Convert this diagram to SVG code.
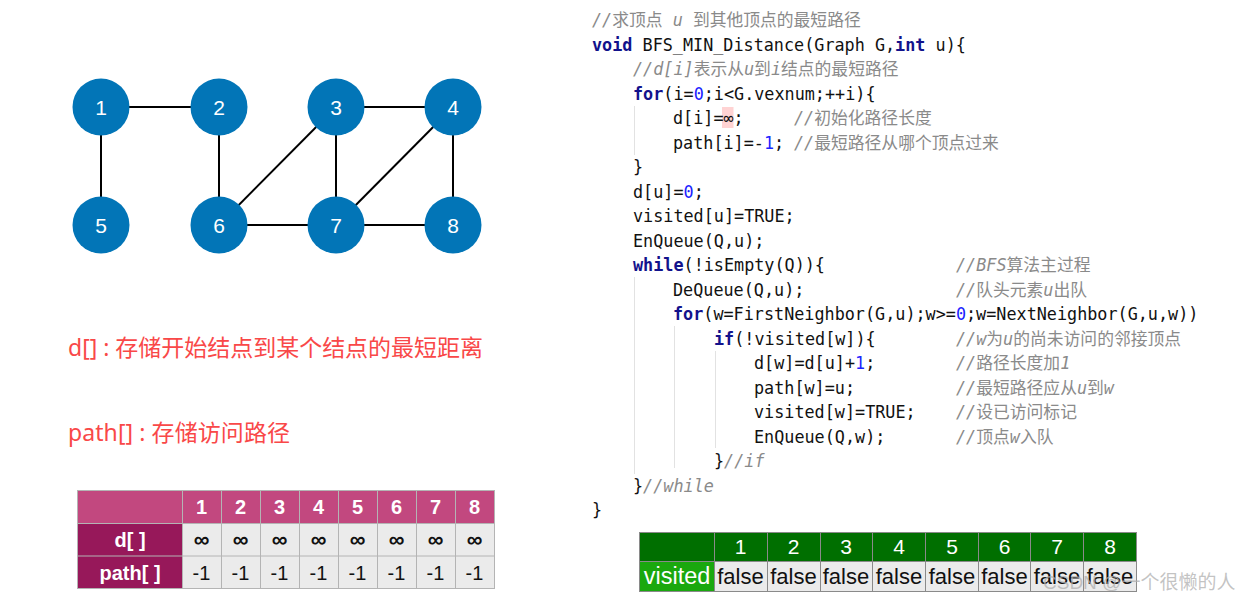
<svg xmlns="http://www.w3.org/2000/svg" width="1251" height="602" viewBox="0 0 1251 602">
<style>
.node circle{fill:#0275b7}
.node text{font-family:"Liberation Sans",Arial,sans-serif;font-size:21px;fill:#fff;text-anchor:middle}
.edge{stroke:#000;stroke-width:2}
.red{font-family:"Noto Sans","Noto Sans CJK SC",sans-serif;font-size:23px;fill:#f94848}
.code{font-family:"DejaVu Sans Mono","Noto Sans CJK SC",monospace;font-size:16.8px;fill:#111}
.kw{fill:#12128c;font-weight:bold}
.num{fill:#1a22ff}
.cm{fill:#8a8a8a;font-style:italic}
.cj{font-style:normal}
.guide{stroke:#e2e2e2;stroke-width:1}
.th{font-family:"Liberation Sans",Arial,sans-serif;font-size:20px;font-weight:bold;fill:#fff;text-anchor:middle}
.td{font-family:"Liberation Sans",Arial,sans-serif;font-size:20px;fill:#111;text-anchor:middle}
.inf{font-weight:bold;font-size:22px}
.vh{font-family:"Liberation Sans",Arial,sans-serif;font-size:21px;fill:#fff;text-anchor:middle}
.vd{font-family:"Liberation Sans",Arial,sans-serif;font-size:22px;fill:#111;text-anchor:middle}
</style>
<rect width="1251" height="602" fill="#fff"/>

<g id="connectors">
<line class="edge" x1="101" y1="107" x2="219" y2="107"/>
<line class="edge" x1="101" y1="107" x2="101" y2="225"/>
<line class="edge" x1="219" y1="107" x2="219" y2="225"/>
<line class="edge" x1="336" y1="107" x2="453" y2="107"/>
<line class="edge" x1="336" y1="107" x2="336" y2="225"/>
<line class="edge" x1="336" y1="107" x2="219" y2="225"/>
<line class="edge" x1="453" y1="107" x2="336" y2="225"/>
<line class="edge" x1="453" y1="107" x2="453" y2="225"/>
<line class="edge" x1="219" y1="225" x2="336" y2="225"/>
<line class="edge" x1="336" y1="225" x2="453" y2="225"/>
</g>
<g id="n1" class="node"><circle cx="101" cy="107" r="28.5"/><text x="101" y="114.5">1</text></g>
<g id="n2" class="node"><circle cx="219" cy="107" r="28.5"/><text x="219" y="114.5">2</text></g>
<g id="n3" class="node"><circle cx="336" cy="107" r="28.5"/><text x="336" y="114.5">3</text></g>
<g id="n4" class="node"><circle cx="453" cy="107" r="28.5"/><text x="453" y="114.5">4</text></g>
<g id="n5" class="node"><circle cx="101" cy="225" r="28.5"/><text x="101" y="232.5">5</text></g>
<g id="n6" class="node"><circle cx="219" cy="225" r="28.5"/><text x="219" y="232.5">6</text></g>
<g id="n7" class="node"><circle cx="336" cy="225" r="28.5"/><text x="336" y="232.5">7</text></g>
<g id="n8" class="node"><circle cx="453" cy="225" r="28.5"/><text x="453" y="232.5">8</text></g>

<text class="red" x="68" y="356" textLength="415" lengthAdjust="spacing">d[] : 存储开始结点到某个结点的最短距离</text>
<text class="red" x="68" y="441" textLength="222" lengthAdjust="spacing">path[] : 存储访问路径</text>

<g id="dtable">
<rect x="78" y="490.5" width="104" height="33" fill="#c2487f"/>
<rect x="182" y="490.5" width="312" height="33" fill="#c2487f"/>
<rect x="78" y="523.5" width="104" height="65" fill="#97185a"/>
<rect x="182" y="523.5" width="312" height="65" fill="#ebebeb"/>
<g stroke="#b4b4b4" stroke-width="1">
<line x1="78" y1="490.5" x2="494" y2="490.5"/>
<line x1="78" y1="523.5" x2="494" y2="523.5"/>
<line x1="78" y1="556" x2="494" y2="556"/>
<line x1="78" y1="588.5" x2="494" y2="588.5"/>
<line x1="77.5" y1="490" x2="77.5" y2="589"/>
<line x1="182.5" y1="490" x2="182.5" y2="589"/>
<line x1="221.5" y1="490" x2="221.5" y2="589"/>
<line x1="260.5" y1="490" x2="260.5" y2="589"/>
<line x1="299.5" y1="490" x2="299.5" y2="589"/>
<line x1="338.5" y1="490" x2="338.5" y2="589"/>
<line x1="377.5" y1="490" x2="377.5" y2="589"/>
<line x1="416.5" y1="490" x2="416.5" y2="589"/>
<line x1="455.5" y1="490" x2="455.5" y2="589"/>
<line x1="494.5" y1="490" x2="494.5" y2="589"/>
</g>
<text class="th" x="201.5" y="514">1</text>
<text class="th" x="240.5" y="514">2</text>
<text class="th" x="279.5" y="514">3</text>
<text class="th" x="318.5" y="514">4</text>
<text class="th" x="357.5" y="514">5</text>
<text class="th" x="396.5" y="514">6</text>
<text class="th" x="435.5" y="514">7</text>
<text class="th" x="474.5" y="514">8</text>
<text class="th" x="130" y="547">d[ ]</text>
<text class="th" x="130" y="580">path[ ]</text>
<g class="td">
<text class="inf" x="201.5" y="547">∞</text><text class="inf" x="240.5" y="547">∞</text><text class="inf" x="279.5" y="547">∞</text><text class="inf" x="318.5" y="547">∞</text>
<text class="inf" x="357.5" y="547">∞</text><text class="inf" x="396.5" y="547">∞</text><text class="inf" x="435.5" y="547">∞</text><text class="inf" x="474.5" y="547">∞</text>
<text x="201.5" y="580">-1</text><text x="240.5" y="580">-1</text><text x="279.5" y="580">-1</text><text x="318.5" y="580">-1</text>
<text x="357.5" y="580">-1</text><text x="396.5" y="580">-1</text><text x="435.5" y="580">-1</text><text x="474.5" y="580">-1</text>
</g>
</g>

<g id="code">
<rect x="722" y="107" width="11.5" height="21" fill="#ffd3d3"/>
<line class="guide" x1="634.5" y1="106" x2="634.5" y2="155"/>
<line class="guide" x1="634.5" y1="277" x2="634.5" y2="474"/>
<line class="guide" x1="674.5" y1="326" x2="674.5" y2="468"/>
<line class="guide" x1="715.5" y1="351" x2="715.5" y2="448"/>
<text class="code" xml:space="preserve" x="592" y="26"><tspan class="cm">//<tspan class="cj">求顶点</tspan> u <tspan class="cj">到其他顶点的最短路径</tspan></tspan></text>
<text class="code" x="592" y="50.5"><tspan class="kw">void</tspan> BFS_MIN_Distance(Graph G,<tspan class="kw">int</tspan> u){</text>
<text class="code" x="633" y="75"><tspan class="cm">//d[i]<tspan class="cj">表示从</tspan>u<tspan class="cj">到</tspan>i<tspan class="cj">结点的最短路径</tspan></tspan></text>
<text class="code" x="633" y="99.5"><tspan class="kw">for</tspan>(i=<tspan class="num">0</tspan>;i&lt;G.vexnum;++i){</text>
<text class="code" x="673" y="124">d[i]=∞;</text>
<text class="code" x="794" y="124"><tspan class="cm">//<tspan class="cj">初始化路径长度</tspan></tspan></text>
<text class="code" x="673" y="148.5">path[i]=-<tspan class="num">1</tspan>;</text>
<text class="code" x="794" y="148.5"><tspan class="cm">//<tspan class="cj">最短路径从哪个顶点过来</tspan></tspan></text>
<text class="code" x="633" y="173">}</text>
<text class="code" x="633" y="197.5">d[u]=<tspan class="num">0</tspan>;</text>
<text class="code" x="633" y="222">visited[u]=TRUE;</text>
<text class="code" x="633" y="246.5">EnQueue(Q,u);</text>
<text class="code" x="633" y="271"><tspan class="kw">while</tspan>(!isEmpty(Q)){</text>
<text class="code" x="956" y="271"><tspan class="cm">//BFS<tspan class="cj">算法主过程</tspan></tspan></text>
<text class="code" x="673" y="295.5">DeQueue(Q,u);</text>
<text class="code" x="956" y="295.5"><tspan class="cm">//<tspan class="cj">队头元素</tspan>u<tspan class="cj">出队</tspan></tspan></text>
<text class="code" x="673" y="320"><tspan class="kw">for</tspan>(w=FirstNeighbor(G,u);w&gt;=<tspan class="num">0</tspan>;w=NextNeighbor(G,u,w))</text>
<text class="code" x="714" y="344.5"><tspan class="kw">if</tspan>(!visited[w]){</text>
<text class="code" x="956" y="344.5"><tspan class="cm">//w<tspan class="cj">为</tspan>u<tspan class="cj">的尚未访问的邻接顶点</tspan></tspan></text>
<text class="code" x="754" y="369">d[w]=d[u]+<tspan class="num">1</tspan>;</text>
<text class="code" x="956" y="369"><tspan class="cm">//<tspan class="cj">路径长度加</tspan>1</tspan></text>
<text class="code" x="754" y="393.5">path[w]=u;</text>
<text class="code" x="956" y="393.5"><tspan class="cm">//<tspan class="cj">最短路径应从</tspan>u<tspan class="cj">到</tspan>w</tspan></text>
<text class="code" x="754" y="418">visited[w]=TRUE;</text>
<text class="code" x="956" y="418"><tspan class="cm">//<tspan class="cj">设已访问标记</tspan></tspan></text>
<text class="code" x="754" y="442.5">EnQueue(Q,w);</text>
<text class="code" x="956" y="442.5"><tspan class="cm">//<tspan class="cj">顶点</tspan>w<tspan class="cj">入队</tspan></tspan></text>
<text class="code" x="714" y="467">}<tspan class="cm">//if</tspan></text>
<text class="code" x="633" y="491.5">}<tspan class="cm">//while</tspan></text>
<text class="code" x="592" y="516">}</text>
</g>

<g id="vtable">
<rect x="640" y="532" width="496" height="29" fill="#006f00"/>
<rect x="640" y="561" width="74" height="30" fill="#1aa80e"/>
<rect x="714" y="561" width="422" height="30" fill="#ebebeb"/>
<g stroke="#8a8a8a" stroke-width="1">
<line x1="640" y1="532.5" x2="1136" y2="532.5"/>
<line x1="640" y1="561.5" x2="1136" y2="561.5"/>
<line x1="640" y1="591.5" x2="1136" y2="591.5"/>
<line x1="639.5" y1="532" x2="639.5" y2="592"/>
<line x1="714.5" y1="532" x2="714.5" y2="592"/>
<line x1="767.5" y1="532" x2="767.5" y2="592"/>
<line x1="820.5" y1="532" x2="820.5" y2="592"/>
<line x1="872.5" y1="532" x2="872.5" y2="592"/>
<line x1="925.5" y1="532" x2="925.5" y2="592"/>
<line x1="978.5" y1="532" x2="978.5" y2="592"/>
<line x1="1030.5" y1="532" x2="1030.5" y2="592"/>
<line x1="1083.5" y1="532" x2="1083.5" y2="592"/>
<line x1="1136.5" y1="532" x2="1136.5" y2="592"/>
</g>
<g class="vh">
<text x="740.5" y="554">1</text><text x="793.5" y="554">2</text><text x="846" y="554">3</text><text x="899" y="554">4</text>
<text x="952" y="554">5</text><text x="1004.5" y="554">6</text><text x="1057" y="554">7</text><text x="1110" y="554">8</text>
</g>
<text x="677" y="584" font-family="Liberation Sans, Arial, sans-serif" font-size="23.5" fill="#fff" text-anchor="middle">visited</text>
<g class="vd">
<text x="740.5" y="584">false</text><text x="793.5" y="584">false</text><text x="846" y="584">false</text><text x="899" y="584">false</text>
<text x="952" y="584">false</text><text x="1004.5" y="584">false</text><text x="1057" y="584">false</text><text x="1110" y="584">false</text>
</g>
</g>

<text x="1043" y="589" font-family="Liberation Sans, 'Noto Sans CJK SC', sans-serif" font-size="19" fill="#b0b0b0" fill-opacity="0.75">CSDN @一个很懒的人</text>
</svg>
